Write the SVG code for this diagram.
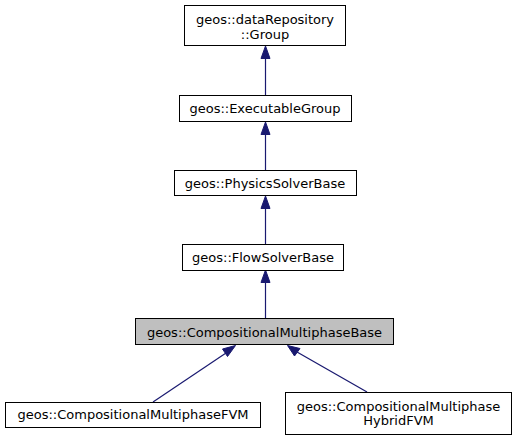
<svg xmlns="http://www.w3.org/2000/svg" width="517" height="440" viewBox="0 0 517 440">
<style>
.n rect{fill:#ffffff;stroke:#000000;stroke-width:1}
.n.cur rect{fill:#bfbfbf;stroke:#000000}
.n text{font-family:"DejaVu Sans",sans-serif;font-size:13px;fill:#000000;text-anchor:middle}
.e line{stroke:#191970;stroke-width:1.2;fill:none}
.e polygon{fill:#191970;stroke:#191970;stroke-width:1}
</style>
<rect width="517" height="440" fill="#ffffff"/>
<g id="edges" class="e">
<line x1="265.5" y1="95" x2="265.5" y2="57"/>
<polygon points="261,58.5 265.5,46 270,58.5"/>
<line x1="265.5" y1="170" x2="265.5" y2="133"/>
<polygon points="261,134.5 265.5,122 270,134.5"/>
<line x1="265.5" y1="244" x2="265.5" y2="207"/>
<polygon points="261,208.5 265.5,196 270,208.5"/>
<line x1="265.5" y1="318" x2="265.5" y2="281"/>
<polygon points="261,282.5 265.5,270 270,282.5"/>
<line x1="153" y1="402" x2="226" y2="353"/>
<polygon points="222.5,349 235.5,345.5 227.5,356.5"/>
<line x1="367" y1="392" x2="297" y2="352"/>
<polygon points="294.5,356 287.5,345.5 300,348.5"/>
</g>
<g id="node_group" class="n">
<rect x="184.5" y="5.5" width="161" height="40"/>
<text x="265" y="24">geos::dataRepository</text>
<text x="265" y="38.5">::Group</text>
</g>
<g id="node_executablegroup" class="n">
<rect x="179.5" y="95.5" width="172" height="26"/>
<text x="265" y="113">geos::ExecutableGroup</text>
</g>
<g id="node_physicssolverbase" class="n">
<rect x="174.5" y="170.5" width="182" height="25"/>
<text x="265" y="187.5">geos::PhysicsSolverBase</text>
</g>
<g id="node_flowsolverbase" class="n">
<rect x="182.5" y="244.5" width="161" height="26"/>
<text x="263" y="262">geos::FlowSolverBase</text>
</g>
<g id="node_compmultiphasebase" class="n cur">
<rect x="135.5" y="318.5" width="258" height="26"/>
<text x="264.5" y="336.5">geos::CompositionalMultiphaseBase</text>
</g>
<g id="node_compmultiphasefvm" class="n">
<rect x="5.5" y="402.5" width="255" height="25"/>
<text x="133" y="419">geos::CompositionalMultiphaseFVM</text>
</g>
<g id="node_compmultiphasehybridfvm" class="n">
<rect x="285.5" y="392.5" width="226" height="42"/>
<text x="398.5" y="410.5">geos::CompositionalMultiphase</text>
<text x="398.5" y="425">HybridFVM</text>
</g>
</svg>
